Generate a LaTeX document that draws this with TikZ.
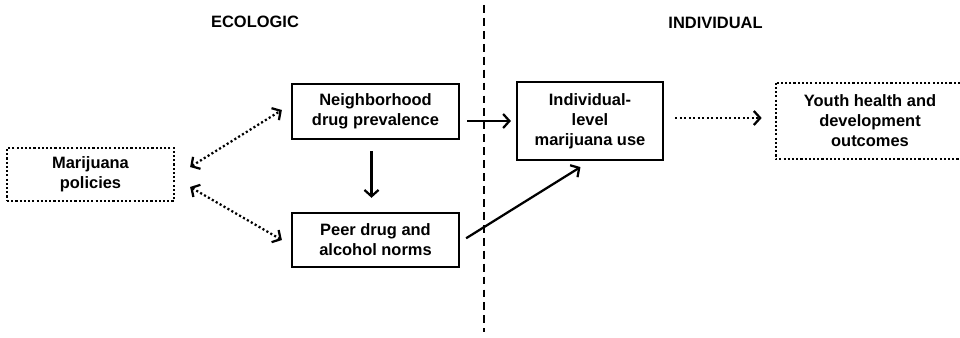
\documentclass[tikz,border=0pt]{standalone}
\usepackage{fontspec}
\setmainfont{Liberation Sans}
\usetikzlibrary{arrows.meta, positioning}

\tikzset{
    boxtext/.style={inner sep=0pt, align=center,
                    font=\bfseries\fontsize{11.7}{14.2}\selectfont},
    solidbox/.style={boxtext, draw, line width=1.6pt},
    dotline/.style={line width=1.6pt, dash pattern=on 1.5pt off 1.5pt},
    dotbox/.style={boxtext, draw, dotline},
    heading/.style={font=\bfseries\fontsize{11.7}{14.2}\selectfont},
    arr/.style={line width=1.6pt, -{Straight Barb[length=4.5pt,width=10pt]}},
    dotarr/.style={arr, dash pattern=on 1.5pt off 1.7pt},
    dotboth/.style={dotarr, {Straight Barb[length=4.5pt,width=10pt]}-{Straight Barb[length=4.5pt,width=10pt]}}
}

\begin{document}
\begin{tikzpicture}
    % Frame:
    \useasboundingbox (0,0) rectangle (24,8.425);
    \clip (0,0) rectangle (24,8.425);

    % Levels:
    \node[heading] (eco) at (6.375,7.875) {ECOLOGIC};
    \node[heading] (indiv) at (17.8875,7.85) {INDIVIDUAL};
    \draw[line width=1.6pt, dash pattern=on 5.6pt off 3.6pt] (12.1,8.3) -- (12.1,0.125);

    % Boxes:
    \node[dotbox, minimum width=4.175cm, minimum height=1.325cm] (pol) at (2.2625,4.0625) {Marijuana\\policies};
    \node[solidbox, minimum width=4.175cm, minimum height=1.375cm] (nbr) at (9.3875,5.6375) {Neighborhood\\drug prevalence};
    \node[solidbox, minimum width=4.175cm, minimum height=1.35cm] (peer) at (9.3875,2.425) {Peer drug and\\alcohol norms};
    \node[solidbox, minimum width=3.65cm, minimum height=1.95cm] (ind) at (14.75,5.4) {Individual-\\level\\marijuana use};
    \node[boxtext, minimum width=4.7cm, minimum height=1.9cm] (yth) at (21.75,5.4) {Youth health and\\development\\outcomes};
    \draw[dotline] (yth.north west) rectangle ([xshift=1cm]yth.south east);

    % Paths:
    \draw[dotboth] ([shift={(0.375,0.1875)}]pol.east) -- ([shift={(-0.225,0.0375)}]nbr.west);
    \draw[dotboth] ([shift={(0.375,-0.3125)}]pol.east) -- ([shift={(-0.225,0)}]peer.west);
    \draw[arr, shorten <=8pt, shorten >=10pt] ([xshift=-0.1cm]nbr.south) -- ([xshift=-0.1cm]nbr.south |- peer.north);
    \draw[arr, shorten <=5pt, shorten >=3.5pt] (nbr.east |- ind.west) -- (ind.west);
    \draw[arr, shorten <=5pt, shorten >=8pt] ([yshift=-0.05cm]peer.east) -- (ind.south);
    \draw[dotarr, shorten <=8pt, shorten >=10pt] ([yshift=0.075cm]ind.east) -- ([yshift=0.075cm]yth.west);
\end{tikzpicture}
\end{document}
